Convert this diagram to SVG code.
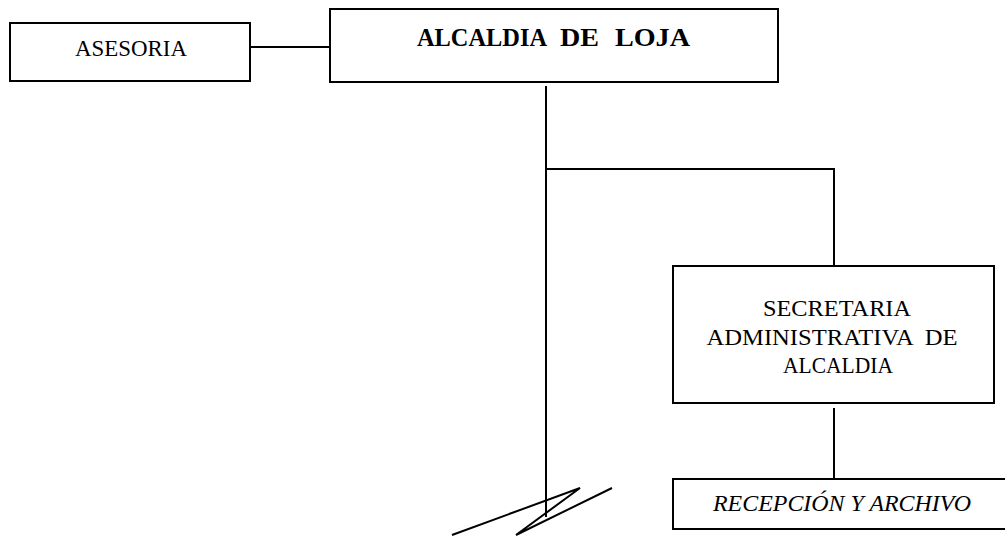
<svg xmlns="http://www.w3.org/2000/svg" width="1005" height="536" viewBox="0 0 1005 536">
<style>
.box{fill:#fff;stroke:#000;stroke-width:2}
.ln{fill:none;stroke:#000;stroke-width:2}
.t{font-family:"Liberation Serif","Times New Roman",serif;fill:#000;font-size:23px}
.c{text-anchor:middle}
.b{font-weight:bold;font-size:25px}
</style>
<rect width="1005" height="536" fill="#fff"/>
<g id="connectors">
<line class="ln" x1="250" y1="47" x2="330" y2="47"/>
<line class="ln" x1="546" y1="86" x2="546" y2="517"/>
<polyline class="ln" points="546,169 834,169 834,265"/>
<line class="ln" x1="834" y1="408" x2="834" y2="479"/>
<polyline class="ln" points="452,535 580,488 516,535 612,488"/>
</g>
<g id="asesoria">
<rect class="box" x="10" y="23" width="240" height="58"/>
<text class="t c" x="131" y="56" textLength="112" lengthAdjust="spacingAndGlyphs">ASESORIA</text>
</g>
<g id="alcaldia">
<rect class="box" x="330" y="9" width="448" height="73"/>
<text class="t b" x="417" y="46" textLength="130" lengthAdjust="spacingAndGlyphs">ALCALDIA</text>
<text class="t b" x="560" y="46" textLength="39" lengthAdjust="spacingAndGlyphs">DE</text>
<text class="t b" x="615" y="46" textLength="75" lengthAdjust="spacingAndGlyphs">LOJA</text>
</g>
<g id="secretaria">
<rect class="box" x="673" y="266" width="321" height="137"/>
<text class="t c" x="837" y="316" textLength="148" lengthAdjust="spacingAndGlyphs">SECRETARIA</text>
<text class="t c" x="832" y="345" textLength="251" lengthAdjust="spacingAndGlyphs" xml:space="preserve">ADMINISTRATIVA  DE</text>
<text class="t c" x="838" y="373" textLength="110" lengthAdjust="spacingAndGlyphs">ALCALDIA</text>
</g>
<g id="recepcion">
<rect class="box" x="673" y="479" width="340" height="50"/>
<text class="t c" x="842" y="511" font-style="italic" textLength="258" lengthAdjust="spacingAndGlyphs">RECEPCIÓN Y ARCHIVO</text>
</g>
</svg>
